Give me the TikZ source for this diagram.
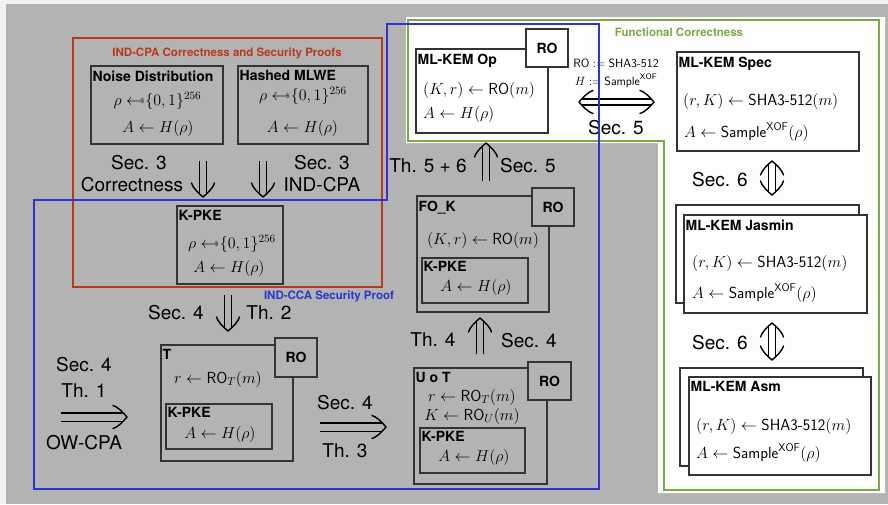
\RequirePackage{fix-cm}
\documentclass[tikz,border=0pt]{standalone}
\usepackage{fontspec}
\newfontfamily\helv{TeX Gyre Heros}

\definecolor{edgegray}{HTML}{F2F2F2}
\definecolor{bggray}{HTML}{B3B3B3}
\definecolor{paper}{HTML}{FDFDFD}
\definecolor{boxline}{HTML}{333333}
\definecolor{redframe}{HTML}{B8391E}
\definecolor{blueframe}{HTML}{2B35D0}
\definecolor{greenframe}{HTML}{7BAA45}

% sampling arrow with a small dollar sign
\newcommand{\smpl}{\mathrel{\leftarrow\mkern-7mu\raisebox{0.25ex}{\fontsize{7}{7}\selectfont\$}}\mkern-4mu}
\newcommand{\XOF}{\mathsf{Sample}^{\mathsf{XOF}}}
\newcommand{\SHAname}{\mbox{\sffamily SHA3-512}}

\tikzset{
  box/.style={draw=boxline, line width=1.1pt, inner sep=0pt},
  graybox/.style={box, fill=bggray},
  whitebox/.style={box, fill=white},
  boxtitle/.style={anchor=north west, inner sep=0pt, font=\helv\bfseries\fontsize{14}{16}\selectfont},
  mathline/.style={inner sep=0pt, font=\fontsize{16}{19}\selectfont},
  proofnote/.style={inner sep=0pt, font=\helv\fontsize{19}{22}\selectfont},
  framelabel/.style={inner sep=0pt, font=\helv\bfseries\fontsize{11.5}{13}\selectfont},
  % double shaft of an implication arrow
  shaft/.style={double=bggray, double distance=5.6pt, line width=1.3pt, draw=black},
  wshaft/.style={shaft, double=white},
  % open curved head of an implication arrow, pointing along +x
  pics/dhead/.style={code={
    \draw[line width=1.4pt, line cap=round, line join=round]
      (-14,-11.5) .. controls (-10,-10.5) and (-4.5,-5.5) .. (0,0)
      .. controls (-4.5,5.5) and (-10,10.5) .. (-14,11.5);}},
}

\begin{document}
\begin{tikzpicture}[x=1pt,y=-1pt]
\useasboundingbox (0,0) rectangle (888,504);

% backgrounds
\fill[edgegray] (0,0) rectangle (888,504);
\fill[bggray] (6,4) rectangle (888,504);
\fill[paper] (406,17) -- (885,17) -- (885,493) -- (658,493) -- (658,143) -- (406,143) -- cycle;

% functional correctness frame
\draw[greenframe, line width=1.8pt] (408,20) -- (879,20) -- (879,490) -- (664,490) -- (664,141) -- (408,141) -- cycle;
\node[framelabel, text=greenframe] (fclabel) at (679,32) {Functional Correctness};

% IND-CPA frame
\draw[redframe, line width=1.5pt] (73,38) rectangle (382,287);
\node[framelabel, text=redframe] (cpalabel) at (227,53) {IND-CPA Correctness and Security Proofs};

% Noise distribution
\node[graybox, minimum width=132pt, minimum height=78pt] (noise) at (157,105) {};
\node[boxtitle] (noiseT) at ([shift={(2,5)}]noise.north west) {Noise Distribution};
\node[mathline] (noiseA) at (157.5,101) {$\rho \smpl \{0,1\}^{256}$};
\node[mathline] (noiseB) at (158,128) {$A \leftarrow H(\rho)$};

% Hashed MLWE
\node[graybox, minimum width=130pt, minimum height=78pt] (hashed) at (303,105) {};
\node[boxtitle] (hashedT) at ([shift={(2,5)}]hashed.north west) {Hashed MLWE};
\node[mathline] (hashedA) at (303,96) {$\rho \smpl \{0,1\}^{256}$};
\node[mathline] (hashedB) at (302.5,128) {$A \leftarrow H(\rho)$};

% K-PKE
\node[graybox, minimum width=106pt, minimum height=78pt] (kpke) at (230,245) {};
\node[boxtitle] (kpkeT) at ([shift={(2,5)}]kpke.north west) {K-PKE};
\node[mathline] (kpkeA) at (232,244) {$\rho \smpl \{0,1\}^{256}$};
\node[mathline] (kpkeB) at (229,268) {$A \leftarrow H(\rho)$};

% Sec. 3 arrows
\coordinate (c3a) at (203,161);
\coordinate (c3b) at (203,197);
\coordinate (c3c) at (263,161);
\coordinate (c3d) at (263,197);
\draw[shaft, shorten >=3pt] (c3a) -- (c3b);
\pic[rotate=-90] at (c3b) {dhead};
\draw[shaft, shorten >=3pt] (c3c) -- (c3d);
\pic[rotate=-90] at (c3d) {dhead};
\node[proofnote] (s3l) at (139,163) {Sec. 3};
\node[proofnote] (corr) at (132,185) {Correctness};
\node[proofnote] (s3r) at (322,163) {Sec. 3};
\node[proofnote] (indcpa) at (322,185) {IND-CPA};

% K-PKE to T
\coordinate (c4a) at (228,295);
\coordinate (c4b) at (228,331);
\draw[shaft, shorten >=3pt] (c4a) -- (c4b);
\pic[rotate=-90] at (c4b) {dhead};
\node[proofnote] (s4a) at (176,313) {Sec. 4};
\node[proofnote] (th2) at (269,313) {Th. 2};

% T
\node[graybox, minimum width=132pt, minimum height=116pt] (T) at (227,403) {};
\node[graybox, minimum width=42pt, minimum height=39pt] (Tro) at (296,357.5) {};
\node[inner sep=0pt, font=\helv\bfseries\fontsize{14}{16}\selectfont] (TroL) at (Tro) {RO};
\node[boxtitle] (TT) at ([shift={(2,5)}]T.north west) {T};
\node[mathline] (TA) at (218,379) {$r \leftarrow \mathsf{RO}_T(m)$};
\node[graybox, minimum width=106pt, minimum height=45pt] (Tin) at (219,426.5) {};
\node[boxtitle] (TinT) at ([shift={(2,4)}]Tin.north west) {K-PKE};
\node[mathline] (TinA) at (220,434) {$A \leftarrow H(\rho)$};

% OW-CPA arrow
\coordinate (owa) at (61,417);
\coordinate (owb) at (127,417);
\draw[shaft, double distance=7pt, shorten >=4pt] (owa) -- (owb);
\pic at (owb) {dhead};
\node[proofnote] (s4b) at (84,365) {Sec. 4};
\node[proofnote] (th1) at (84,391) {Th. 1};
\node[proofnote] (owcpa) at (84,443) {OW-CPA};

% T to U o T
\coordinate (tua) at (320,427);
\coordinate (tub) at (386,427);
\draw[shaft, double distance=7pt, shorten >=4pt] (tua) -- (tub);
\pic at (tub) {dhead};
\node[proofnote] (s4c) at (345,403) {Sec. 4};
\node[proofnote] (th3) at (345,451) {Th. 3};

% U o T
\node[graybox, minimum width=133pt, minimum height=116pt] (UT) at (480.5,426) {};
\node[graybox, minimum width=43pt, minimum height=38pt] (UTro) at (549.5,381) {};
\node[inner sep=0pt, font=\helv\bfseries\fontsize{14}{16}\selectfont] (UTroL) at (UTro) {RO};
\node[boxtitle] (UTT) at ([shift={(2,5)}]UT.north west) {U o T};
\node[mathline] (UTA) at (472,397) {$r \leftarrow \mathsf{RO}_T(m)$};
\node[mathline] (UTB) at (472,416) {$K \leftarrow \mathsf{RO}_U(m)$};
\node[graybox, minimum width=105pt, minimum height=45pt] (UTin) at (472.5,450.5) {};
\node[boxtitle] (UTinT) at ([shift={(2,4)}]UTin.north west) {K-PKE};
\node[mathline] (UTinA) at (474,457) {$A \leftarrow H(\rho)$};

% U o T to FO_K
\coordinate (ufa) at (480,354);
\coordinate (ufb) at (480,318);
\draw[shaft, shorten >=3pt] (ufa) -- (ufb);
\pic[rotate=90] at (ufb) {dhead};
\node[proofnote] (th4) at (433,340) {Th. 4};
\node[proofnote] (s4d) at (529,341) {Sec. 4};

% FO_K
\node[graybox, minimum width=132pt, minimum height=116pt] (FO) at (483,254) {};
\node[graybox, minimum width=42pt, minimum height=38pt] (FOro) at (553,207) {};
\node[inner sep=0pt, font=\helv\bfseries\fontsize{14}{16}\selectfont] (FOroL) at (FOro) {RO};
\node[boxtitle] (FOT) at ([shift={(2,5)}]FO.north west) {FO\_K};
\node[mathline] (FOA) at (483,240) {$(K,r) \leftarrow \mathsf{RO}(m)$};
\node[graybox, minimum width=106pt, minimum height=45pt] (FOin) at (475,280.5) {};
\node[boxtitle] (FOinT) at ([shift={(2,4)}]FOin.north west) {K-PKE};
\node[mathline] (FOinA) at (476,287) {$A \leftarrow H(\rho)$};

% FO_K to ML-KEM Op
\coordinate (foa) at (486,181);
\coordinate (fob) at (486,143);
\draw[shaft, shorten >=3pt] (foa) -- (fob);
\pic[rotate=90] at (fob) {dhead};
\node[proofnote] (th56) at (428,166) {Th. 5 + 6};
\node[proofnote] (s5a) at (528,166) {Sec. 5};

% ML-KEM Op
\node[whitebox, minimum width=132pt, minimum height=84pt] (op) at (482,91) {};
\node[whitebox, minimum width=42pt, minimum height=38pt] (opro) at (547,48) {};
\node[inner sep=0pt, font=\helv\bfseries\fontsize{14}{16}\selectfont] (oproL) at (opro) {RO};
\node[boxtitle] (opT) at ([shift={(2,5)}]op.north west) {ML-KEM Op};
\node[mathline, anchor=west] (opA) at (423,90) {$(K,r) \leftarrow \mathsf{RO}(m)$};
\node[mathline, anchor=west] (opB) at (423,114) {$A \leftarrow H(\rho)$};

% refinement Op <-> Spec
\node[inner sep=0pt, align=center, font=\fontsize{12}{18}\selectfont] (instant) at (616,73)
  {$\mathsf{RO} := \SHAname$\\ $H := \XOF$};
\coordinate (osa) at (579,102);
\coordinate (osb) at (654,102);
\draw[wshaft, double distance=4.8pt, shorten >=3pt, shorten <=3pt] (osa) -- (osb);
\pic[rotate=180] at (osa) {dhead};
\pic at (osb) {dhead};
\node[proofnote] (s5b) at (616,128) {Sec. 5};

% ML-KEM Spec
\node[whitebox, minimum width=182pt, minimum height=99pt] (spec) at (768,101.5) {};
\node[boxtitle] (specT) at ([shift={(2,5)}]spec.north west) {ML-KEM Spec};
\node[mathline, anchor=west] (specA) at (683,101) {$(r,K) \leftarrow \SHAname(m)$};
\node[mathline, anchor=west] (specB) at (684,132) {$A \leftarrow \XOF(\rho)$};

% Spec <-> Jasmin
\coordinate (sja) at (772,161);
\coordinate (sjb) at (772,195);
\draw[wshaft, shorten >=3pt, shorten <=3pt] (sja) -- (sjb);
\pic[rotate=90] at (sja) {dhead};
\pic[rotate=-90] at (sjb) {dhead};
\node[proofnote] (s6a) at (720,180) {Sec. 6};

% ML-KEM Jasmin
\node[whitebox, minimum width=183pt, minimum height=98pt] (jasB) at (767.5,254) {};
\node[whitebox, minimum width=183pt, minimum height=98pt] (jas) at (775.5,264) {};
\node[boxtitle] (jasT) at ([shift={(2,5)}]jas.north west) {ML-KEM Jasmin};
\node[mathline, anchor=west] (jasA) at (692,263) {$(r,K) \leftarrow \SHAname(m)$};
\node[mathline, anchor=west] (jasC) at (692,293) {$A \leftarrow \XOF(\rho)$};

% Jasmin <-> Asm
\coordinate (jaa) at (772,323);
\coordinate (jab) at (772,360);
\draw[wshaft, shorten >=3pt, shorten <=3pt] (jaa) -- (jab);
\pic[rotate=90] at (jaa) {dhead};
\pic[rotate=-90] at (jab) {dhead};
\node[proofnote] (s6b) at (720,343) {Sec. 6};

% ML-KEM Asm
\node[whitebox, minimum width=183pt, minimum height=98pt] (asmB) at (771.5,417) {};
\node[whitebox, minimum width=182pt, minimum height=98pt] (asm) at (780,426) {};
\node[boxtitle] (asmT) at ([shift={(2,5)}]asm.north west) {ML-KEM Asm};
\node[mathline, anchor=west] (asmA) at (696,426) {$(r,K) \leftarrow \SHAname(m)$};
\node[mathline, anchor=west] (asmC) at (696,453) {$A \leftarrow \XOF(\rho)$};

% IND-CCA frame
\draw[blueframe, line width=1.6pt] (34,200) -- (387,200) -- (387,24) -- (599,24) -- (599,489) -- (34,489) -- cycle;
\node[framelabel, text=blueframe] (ccalabel) at (329,296) {IND-CCA Security Proof};
\end{tikzpicture}
\end{document}
